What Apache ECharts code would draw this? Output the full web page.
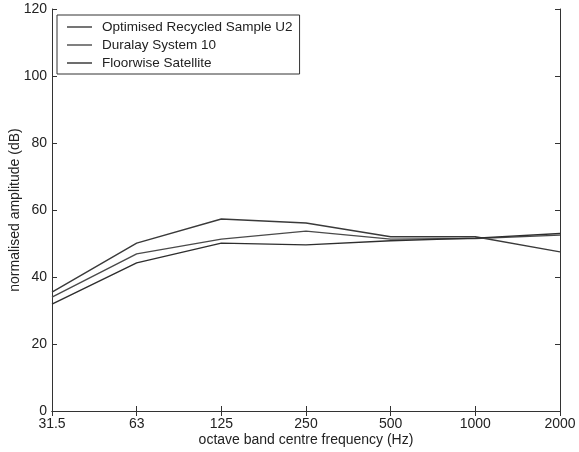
<!DOCTYPE html>
<html><head><meta charset="utf-8">
<script src="https://cdn.jsdelivr.net/npm/echarts@6/dist/echarts.min.js"></script>
<style>html,body{margin:0;padding:0;background:#fff}#c{width:579px;height:452px}</style>
</head><body><div id="c"></div>
<script>
const categories = ['31.5','63','125','250','500','1000','2000'];
const seriesNames = ['Optimised Recycled Sample U2','Duralay System 10','Floorwise Satellite'];
const optimisedU2 = [35.5, 50.1, 57.3, 56.1, 52.0, 52.0, 47.5];
const duralay10 = [34.0, 46.9, 51.3, 53.7, 51.3, 51.5, 52.5];
const floorwise = [31.9, 44.2, 50.1, 49.6, 50.8, 51.6, 53.0];
const yTicks = [0, 20, 40, 60, 80, 100, 120];

const chart = echarts.init(document.getElementById('c'));
const font = 'Liberation Sans, Arial, Helvetica, sans-serif';
const axisCol = '#333';
const lineCols = ['#3a3a3a', '#4a4a4a', '#2e2e2e'];
const allData = [optimisedU2, duralay10, floorwise];
chart.setOption({
  animation: false,
  backgroundColor: '#fff',
  grid: {left: 52, right: 19, top: 9, bottom: 41, containLabel: false, outerBoundsMode: 'none'},
  legend: {
    orient: 'vertical', left: 57, top: 15,
    data: seriesNames,
    icon: 'rect',
    itemWidth: 25, itemHeight: 1.4, itemGap: 4,
    padding: [5, 7, 4, 10],
    borderColor: '#333', borderWidth: 1, backgroundColor: '#fff',
    textStyle: {fontFamily: font, fontSize: 13.5, color: '#222', padding: [0,0,0,5], lineHeight: 14}
  },
  xAxis: [{
    type: 'category', data: categories, boundaryGap: false,
    axisLine: {lineStyle: {color: axisCol, width: 1}},
    axisTick: {inside: true, length: 5, lineStyle: {color: axisCol}},
    axisLabel: {fontFamily: font, fontSize: 14, color: '#222', margin: 6},
    name: 'octave band centre frequency (Hz)', nameLocation: 'middle', nameGap: 22,
    nameMoveOverlap: false,
    nameTextStyle: {fontFamily: font, fontSize: 14, color: '#222'}
  }, {
    type: 'category', data: categories, boundaryGap: false, position: 'top',
    axisLine: {lineStyle: {color: axisCol, width: 1}},
    axisTick: {inside: true, length: 5, lineStyle: {color: axisCol}},
    axisLabel: {show: false}
  }],
  yAxis: [{
    type: 'value', min: 0, max: 120, interval: 20,
    axisLine: {show: true, lineStyle: {color: axisCol, width: 1}},
    axisTick: {show: true, inside: true, length: 5, lineStyle: {color: axisCol}},
    splitLine: {show: false},
    axisLabel: {fontFamily: font, fontSize: 14, color: '#222', margin: 5,
      formatter: v => yTicks.includes(v) ? String(v) : ''},
    name: 'normalised amplitude (dB)', nameLocation: 'middle', nameGap: 30,
    nameMoveOverlap: false,
    nameTextStyle: {fontFamily: font, fontSize: 14, color: '#222'}
  }, {
    type: 'value', min: 0, max: 120, interval: 20, position: 'right',
    axisLine: {show: true, lineStyle: {color: axisCol, width: 1}},
    axisTick: {show: true, inside: true, length: 5, lineStyle: {color: axisCol}},
    splitLine: {show: false},
    axisLabel: {show: false}
  }],
  series: seriesNames.map((n, i) => ({
    name: n, type: 'line', data: allData[i], symbol: 'none',
    xAxisIndex: 0, yAxisIndex: 0,
    lineStyle: {color: lineCols[i], width: 1.4},
    itemStyle: {color: lineCols[i]}
  }))
});
</script></body></html>
